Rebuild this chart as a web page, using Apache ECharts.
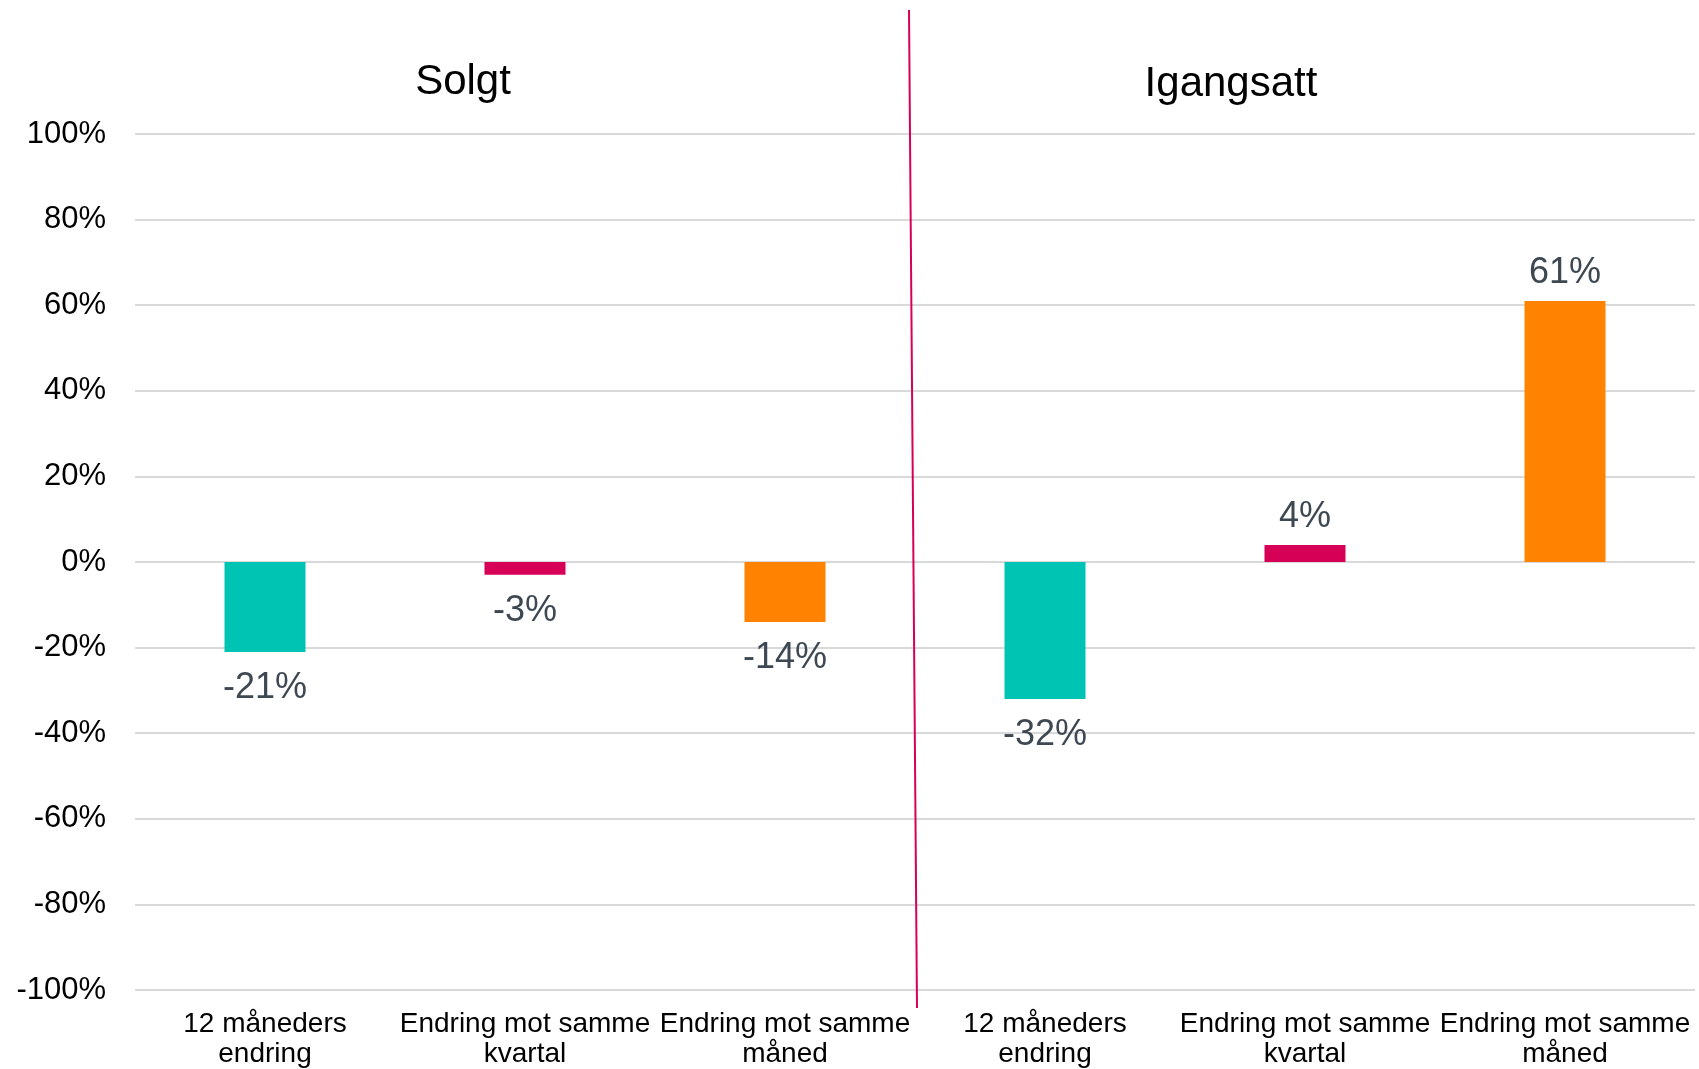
<!DOCTYPE html>
<html>
<head>
<meta charset="utf-8">
<script src="https://cdn.jsdelivr.net/npm/echarts@6/dist/echarts.min.js"></script>
<style>
html,body{margin:0;padding:0;background:#fff;}
#chart{width:1699px;height:1069px;}
</style>
</head>
<body>
<div id="chart"></div>
<script>
const categories = [
  '12 måneders\nendring', 'Endring mot samme\nkvartal', 'Endring mot samme\nmåned',
  '12 måneders\nendring', 'Endring mot samme\nkvartal', 'Endring mot samme\nmåned'
];
const values = [-21, -3, -14, -32, 4, 61];
const barColors = ['#00C4B3', '#D70057', '#FF8200', '#00C4B3', '#D70057', '#FF8200'];
const groupTitles = ['Solgt', 'Igangsatt'];
const yTicks = { min: -100, max: 100, interval: 20 };

const FONT = 'Liberation Sans, Arial, sans-serif';
const chart = echarts.init(document.getElementById('chart'));

const option = {
  backgroundColor: '#fff',
  animation: false,
  title: [
    { text: groupTitles[0], left: 458, top: 56, textAlign: 'center',
      textStyle: { fontFamily: FONT, fontSize: 42, fontWeight: 'normal', color: '#000' } },
    { text: groupTitles[1], left: 1226, top: 58, textAlign: 'center',
      textStyle: { fontFamily: FONT, fontSize: 42, fontWeight: 'normal', color: '#000' } }
  ],
  grid: { left: 135, right: 4, top: 134, bottom: 76, containLabel: false },
  xAxis: {
    type: 'category',
    data: categories,
    axisLine: { show: false },
    axisTick: { show: false },
    axisLabel: { fontFamily: FONT, fontSize: 28, lineHeight: 30, color: '#000', margin: 19, interval: 0 }
  },
  yAxis: {
    type: 'value',
    min: yTicks.min, max: yTicks.max, interval: yTicks.interval,
    axisLine: { show: false },
    axisTick: { show: false },
    splitLine: { lineStyle: { color: '#D9D9D9', width: 2 } },
    axisLabel: { fontFamily: FONT, fontSize: 31, color: '#000', margin: 29,
      formatter: v => v + '%' }
  },
  series: [{
    type: 'bar',
    barWidth: 81,
    data: values.map((v, i) => ({
      value: v,
      itemStyle: { color: barColors[i] },
      label: v >= 0 ? { position: 'top', distance: 10 } : { position: 'bottom', distance: 18 }
    })),
    label: {
      show: true,
      fontFamily: FONT, fontSize: 36, color: '#3E4852',
      formatter: p => p.value + '%'
    }
  }]
};
chart.setOption(option);

// divider between the two groups (decoration, placed from the category scale)
const p2 = chart.convertToPixel({ xAxisIndex: 0 }, 2);
const p3 = chart.convertToPixel({ xAxisIndex: 0 }, 3);
const mid = (p2 + p3) / 2;
chart.setOption({
  graphic: [{
    type: 'line',
    shape: { x1: mid - 6, y1: 10, x2: mid + 2, y2: 1008 },
    style: { stroke: '#D70057', lineWidth: 2 },
    z: 10
  }]
});
</script>
</body>
</html>
